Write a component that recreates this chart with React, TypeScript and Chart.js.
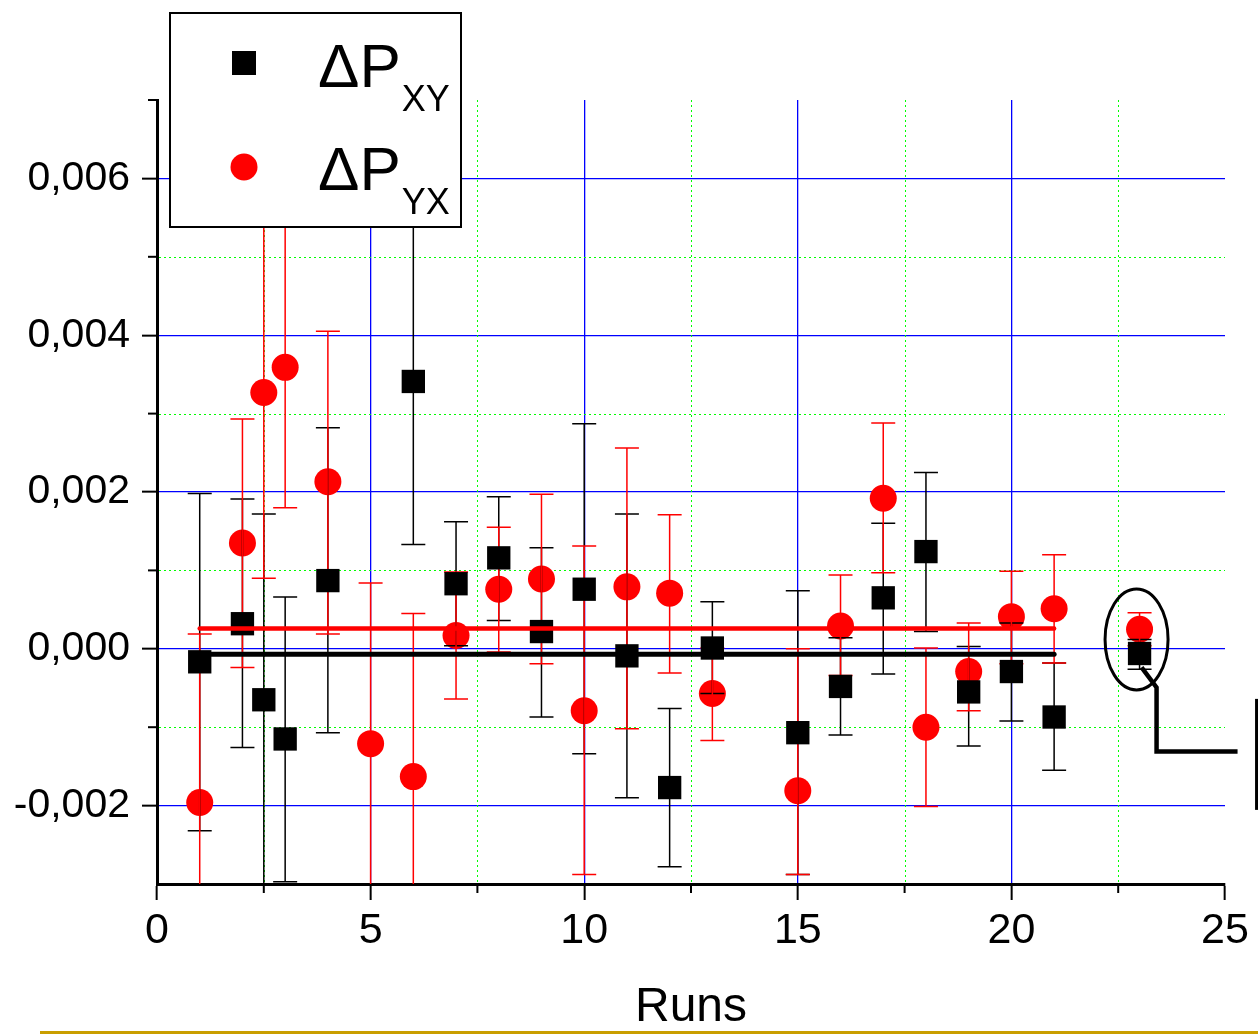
import React, { useEffect, useRef } from 'react';
import { Chart, registerables } from 'chart.js';

Chart.register(...registerables);

// ---------- data ----------
const xyRuns = [1, 2, 2.5, 3, 4, 6, 7, 8, 9, 10, 11, 12, 13, 15, 16, 17, 18, 19, 20, 21, 23];
const xyValues = [-0.000166, 0.00032, -0.00065, -0.00115, 0.00087, 0.00341, 0.00083, 0.00116, 0.00022, 0.00076, -0.00009, -0.00177, 0.00001, -0.00107, -0.00048, 0.00065, 0.00124, -0.00055, -0.00029, -0.00087, -0.00006];
const xyErrHigh = [0.00198, 0.00191, 0.00172, 0.00066, 0.00282, 0.00549, 0.00162, 0.00194, 0.00129, 0.00287, 0.00172, -0.00076, 0.0006, 0.00074, 0.00014, 0.0016, 0.00225, 0.00003, 0.00033, -0.00018, 0.00012];
const xyErrLow = [-0.00232, -0.00126, -0.00302, -0.00297, -0.00107, 0.00133, 0.00004, 0.00036, -0.00087, -0.00134, -0.0019, -0.00278, -0.00057, -0.00288, -0.0011, -0.00032, 0.00022, -0.00124, -0.00092, -0.00155, -0.00026];

const yxRuns = [1, 2, 2.5, 3, 4, 5, 6, 7, 8, 9, 10, 11, 12, 13, 15, 16, 17, 18, 19, 20, 21, 23];
const yxValues = [-0.00196, 0.00135, 0.00327, 0.00359, 0.00213, -0.00121, -0.00163, 0.00017, 0.00076, 0.00089, -0.00079, 0.00079, 0.00071, -0.00057, -0.00181, 0.00029, 0.00192, -0.001, -0.00029, 0.00041, 0.00051, 0.00025];
const yxErrHigh = [0.00019, 0.00293, 0.00564, 0.0056, 0.00405, 0.00084, 0.00045, 0.00098, 0.00155, 0.00197, 0.00131, 0.00256, 0.00171, 0.00001, 0.0, 0.00094, 0.00288, 0.00001, 0.00033, 0.00099, 0.0012, 0.00046];
const yxErrLow = [-0.00411, -0.00024, 0.0009, 0.0018, 0.00019, -0.00326, -0.00371, -0.00064, -0.00004, -0.00019, -0.00288, -0.00102, -0.00031, -0.00117, -0.00288, -0.00034, 0.00097, -0.00201, -0.00079, -0.00019, -0.00018, 0.00004];

const xyMean = -0.00007;
const yxMean = 0.00026;
const meanRunRange = [1, 21];

const legendMain = ['ΔP', 'ΔP'];
const legendSub = ['XY', 'YX'];

const xTickValues = [0, 5, 10, 15, 20, 25];
const xMinorValues = [2.5, 7.5, 12.5, 17.5, 22.5];
const yTickValues = [-0.002, 0, 0.002, 0.004, 0.006];
const yMinorValues = [-0.001, 0.001, 0.003, 0.005, 0.007];

const annotatedRun = 23;
const annotatedValue = 0.00012;

const FONT = "'Liberation Sans', Arial, Helvetica, sans-serif";
const BLACK = '#000000';
const RED = '#ff0000';
const BLUE = '#0000ff';
const GREEN = '#00ff00';

function drawErrorBars(chart: any, runs: number[], lows: number[], highs: number[], color: string) {
  const { ctx, chartArea, scales } = chart;
  const xs = scales.x;
  const ys = scales.y;
  ctx.save();
  ctx.beginPath();
  ctx.rect(chartArea.left, chartArea.top, chartArea.right - chartArea.left, chartArea.bottom - chartArea.top);
  ctx.clip();
  ctx.strokeStyle = color;
  ctx.lineWidth = 1.5;
  runs.forEach((r, i) => {
    const px = xs.getPixelForValue(r);
    const pl = ys.getPixelForValue(lows[i]);
    const ph = ys.getPixelForValue(highs[i]);
    ctx.beginPath();
    ctx.moveTo(px, pl);
    ctx.lineTo(px, ph);
    ctx.moveTo(px - 12, pl);
    ctx.lineTo(px + 12, pl);
    ctx.moveTo(px - 12, ph);
    ctx.lineTo(px + 12, ph);
    ctx.stroke();
  });
  ctx.restore();
}

const customPlugin = {
  id: 'customDecor',
  beforeDatasetsDraw(chart: any) {
    const { ctx, chartArea, scales } = chart;
    const xs = scales.x;
    const ys = scales.y;
    ctx.save();
    // minor dotted grid
    ctx.strokeStyle = GREEN;
    ctx.lineWidth = 1;
    ctx.setLineDash([2, 3]);
    xMinorValues.forEach((v) => {
      const px = Math.round(xs.getPixelForValue(v)) + 0.5;
      ctx.beginPath();
      ctx.moveTo(px, chartArea.top);
      ctx.lineTo(px, chartArea.bottom - 2);
      ctx.stroke();
    });
    yMinorValues.forEach((v) => {
      const py = Math.round(ys.getPixelForValue(v)) + 0.5;
      if (py <= chartArea.top + 1) return;
      ctx.beginPath();
      ctx.moveTo(chartArea.left + 2, py);
      ctx.lineTo(chartArea.right, py);
      ctx.stroke();
    });
    ctx.setLineDash([]);
    // minor ticks
    ctx.strokeStyle = BLACK;
    ctx.lineWidth = 2;
    xMinorValues.forEach((v) => {
      const px = xs.getPixelForValue(v);
      ctx.beginPath();
      ctx.moveTo(px, chartArea.bottom);
      ctx.lineTo(px, chartArea.bottom + 9);
      ctx.stroke();
    });
    yMinorValues.forEach((v) => {
      const py = ys.getPixelForValue(v);
      ctx.beginPath();
      ctx.moveTo(chartArea.left, py);
      ctx.lineTo(chartArea.left - 9, py);
      ctx.stroke();
    });
    ctx.restore();
  },
  beforeDatasetDraw(chart: any, args: any) {
    if (args.index === 2) {
      drawErrorBars(chart, xyRuns, xyErrLow, xyErrHigh, BLACK);
      drawErrorBars(chart, yxRuns, yxErrLow, yxErrHigh, RED);
    }
  },
  afterDraw(chart: any) {
    const { ctx, scales } = chart;
    const xs = scales.x;
    const ys = scales.y;
    ctx.save();
    // legend
    ctx.fillStyle = '#ffffff';
    ctx.fillRect(170, 13, 291, 214);
    ctx.strokeStyle = BLACK;
    ctx.lineWidth = 2;
    ctx.strokeRect(170, 13, 291, 214);
    ctx.fillStyle = BLACK;
    ctx.fillRect(232, 51, 24, 24);
    ctx.fillStyle = RED;
    ctx.beginPath();
    ctx.arc(244, 167, 13.5, 0, Math.PI * 2);
    ctx.fill();
    ctx.fillStyle = BLACK;
    ctx.textAlign = 'left';
    ctx.textBaseline = 'alphabetic';
    const baselines = [87, 190];
    legendMain.forEach((t, i) => {
      ctx.font = `62px ${FONT}`;
      ctx.fillText(t, 318, baselines[i]);
      const w = ctx.measureText(t).width;
      ctx.font = `36px ${FONT}`;
      ctx.fillText(legendSub[i], 318 + w + 1, baselines[i] + 24);
    });

    // annotation ellipse and connector
    const cx = xs.getPixelForValue(annotatedRun) - 3;
    const cy = ys.getPixelForValue(annotatedValue);
    ctx.strokeStyle = BLACK;
    ctx.lineWidth = 3;
    ctx.beginPath();
    ctx.ellipse(cx, cy, 31.5, 50.5, 0, 0, Math.PI * 2);
    ctx.stroke();
    ctx.lineWidth = 4.5;
    ctx.lineJoin = 'miter';
    ctx.beginPath();
    ctx.moveTo(cx + 5, cy + 28);
    ctx.lineTo(cx + 20, cy + 48);
    ctx.lineTo(cx + 20, cy + 112);
    ctx.lineTo(cx + 101, cy + 112);
    ctx.stroke();
    ctx.lineWidth = 3;
    ctx.strokeRect(cx + 120, cy + 61, 40, 108);
    ctx.strokeStyle = '#e6dc9a';
    ctx.lineWidth = 1;
    ctx.beginPath();
    ctx.moveTo(cx + 122.5, cy + 63);
    ctx.lineTo(cx + 122.5, cy + 167);
    ctx.stroke();

    // golden rule at bottom
    ctx.fillStyle = '#c99e00';
    ctx.fillRect(40, 1031, 1218, 3);
    ctx.restore();
  },
};

export default function App() {
  const canvasRef = useRef<HTMLCanvasElement | null>(null);

  useEffect(() => {
    const canvas = canvasRef.current;
    if (!canvas) return;

    const chart = new Chart(canvas, {
      type: 'scatter',
      data: {
        datasets: [
          {
            type: 'line',
            label: 'mean YX',
            data: meanRunRange.map((r) => ({ x: r, y: yxMean })),
            borderColor: RED,
            borderWidth: 4.5,
            borderCapStyle: 'round',
            pointRadius: 0,
            showLine: true,
            fill: false,
          } as any,
          {
            type: 'line',
            label: 'mean XY',
            data: meanRunRange.map((r) => ({ x: r, y: xyMean })),
            borderColor: BLACK,
            borderWidth: 5,
            borderCapStyle: 'round',
            pointRadius: 0,
            showLine: true,
            fill: false,
          } as any,
          {
            label: 'ΔP XY',
            data: xyRuns.map((r, i) => ({ x: r, y: xyValues[i] })),
            pointStyle: 'rect',
            pointRadius: 16.5,
            backgroundColor: BLACK,
            borderColor: BLACK,
            borderWidth: 0,
          },
          {
            label: 'ΔP YX',
            data: yxRuns.map((r, i) => ({ x: r, y: yxValues[i] })),
            pointStyle: 'circle',
            pointRadius: 13.5,
            backgroundColor: RED,
            borderColor: RED,
            borderWidth: 0,
          },
        ],
      },
      options: {
        responsive: false,
        animation: false,
        devicePixelRatio: 1,
        events: [],
        layout: { padding: { left: 0, top: 100, right: 33, bottom: 0 } },
        plugins: { legend: { display: false }, tooltip: { enabled: false } },
        scales: {
          x: {
            type: 'linear',
            min: 0,
            max: 25,
            afterBuildTicks: (s: any) => {
              s.ticks = xTickValues.map((v) => ({ value: v }));
            },
            afterFit: (s: any) => {
              s.height = 150;
            },
            grid: {
              color: (c: any) => (c.tick && c.tick.value > 0 && c.tick.value < 25 ? BLUE : 'rgba(0,0,0,0)'),
              lineWidth: 1.3,
              tickColor: BLACK,
              tickWidth: 2,
              tickLength: 16,
            },
            border: { color: BLACK, width: 3 },
            ticks: {
              color: BLACK,
              font: { family: FONT, size: 43 },
              padding: 5,
              maxRotation: 0,
              autoSkip: false,
              callback: (v: any) => String(v),
            },
            title: {
              display: true,
              text: 'Runs',
              color: BLACK,
              font: { family: FONT, size: 48, lineHeight: 1 },
              padding: { top: 0, bottom: 2 },
            },
          },
          y: {
            type: 'linear',
            min: -0.003,
            max: 0.007,
            afterBuildTicks: (s: any) => {
              s.ticks = yTickValues.map((v) => ({ value: v }));
            },
            afterFit: (s: any) => {
              s.width = 157;
            },
            grid: {
              color: BLUE,
              lineWidth: 1.3,
              tickColor: BLACK,
              tickWidth: 2,
              tickLength: 15,
            },
            border: { color: BLACK, width: 3 },
            ticks: {
              color: BLACK,
              font: { family: FONT, size: 41 },
              padding: 12,
              autoSkip: false,
              callback: (v: any) => Number(v).toFixed(3).replace('.', ','),
            },
          },
        },
      },
      plugins: [customPlugin],
    } as any);

    return () => {
      chart.destroy();
    };
  }, []);

  return (
    <div style={{ position: 'absolute', left: 0, top: 0, width: 1258, height: 1034, background: '#ffffff', overflow: 'hidden' }}>
      <canvas ref={canvasRef} width={1258} height={1034} style={{ display: 'block', width: 1258, height: 1034 }} />
    </div>
  );
}
